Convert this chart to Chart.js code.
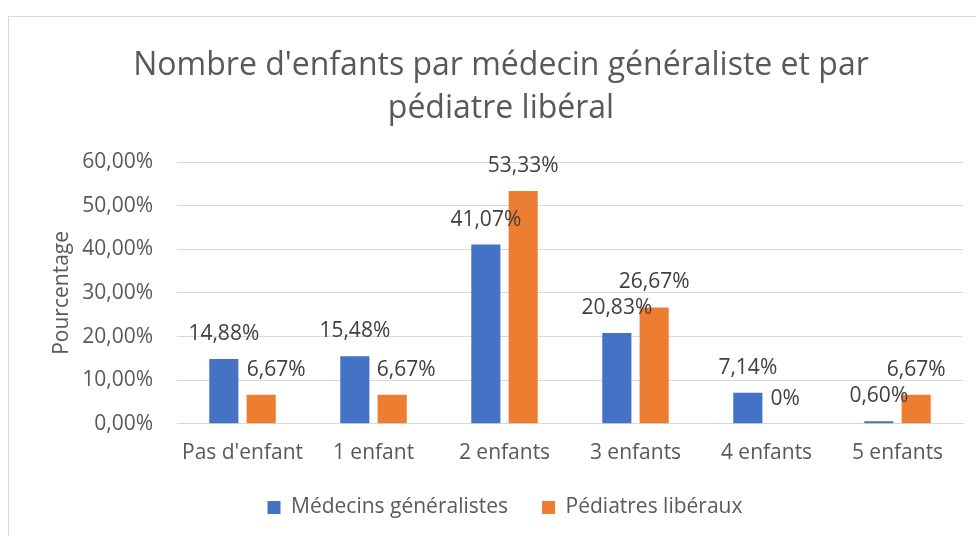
<!DOCTYPE html>
<html lang="fr">
<head>
<meta charset="utf-8">
<title>Nombre d'enfants par médecin généraliste et par pédiatre libéral</title>
<script src="https://cdn.jsdelivr.net/npm/chart.js@4.4.1/dist/chart.umd.min.js"></script>
<style>
  html, body { margin: 0; padding: 0; background: #fff; }
  .wrap { position: relative; width: 976px; height: 536px; }
</style>
</head>
<body>
<div class="wrap"><canvas id="chart" width="976" height="536"></canvas></div>
<script>
// data (percent)
const categories = ["Pas d'enfant", "1 enfant", "2 enfants", "3 enfants", "4 enfants", "5 enfants"];
const generalistes = [14.88, 15.48, 41.07, 20.83, 7.14, 0.60];
const pediatres = [6.67, 6.67, 53.33, 26.67, 0, 6.67];
const seriesNames = ["Médecins généralistes", "Pédiatres libéraux"];
const titleLines = ["Nombre d'enfants par médecin généraliste et par", "pédiatre libéral"];
const yTitle = "Pourcentage";

const FONT = "'Open Sans', 'Noto Sans', sans-serif";
const GREY = '#595959';
const LEGEND_GAP = 34;

const fmtPct = (v, digits) => v === 0 && digits === null ? '0%' : v.toFixed(digits === null ? 2 : digits).replace('.', ',') + '%';

// Excel moved a couple of labels sideways so they don't sit on the bars
const labelShift = [[0, 0, 0, 0, 0, 0], [15, 14, 0, 0, 0, 0]];

const barLabels = {
  id: 'barLabels',
  afterDatasetsDraw(chart) {
    const ctx = chart.ctx;
    ctx.save();
    ctx.font = '21px ' + FONT;
    ctx.fillStyle = '#404040';
    ctx.textAlign = 'center';
    ctx.textBaseline = 'middle';
    chart.data.datasets.forEach((ds, di) => {
      chart.getDatasetMeta(di).data.forEach((bar, i) => {
        ctx.fillText(fmtPct(ds.data[i], null), bar.x + labelShift[di][i], bar.y - 25);
      });
    });
    ctx.restore();
  }
};

// the original chart box is wider than the window, so title and legend sit right of the page centre
const frame = {
  id: 'frame',
  afterLayout(chart) {
    chart.titleBlock.left += 15;
    chart.titleBlock.right += 15;
    const lg = chart.legend;
    lg.left += 19;
    lg.right += 19;
    // big label padding is only wanted between the items, not above them
    lg.top -= LEGEND_GAP - 14;
  },
  beforeDraw(chart) {
    const ctx = chart.ctx;
    ctx.save();
    ctx.fillStyle = '#fff';
    ctx.fillRect(0, 0, chart.width, chart.height);
    ctx.strokeStyle = '#d9d9d9';
    ctx.lineWidth = 1;
    ctx.strokeRect(8.5, 16.5, chart.width, chart.height);
    ctx.restore();
  }
};

new Chart(document.getElementById('chart'), {
  type: 'bar',
  data: {
    labels: categories,
    datasets: [
      { label: seriesNames[0], data: generalistes, backgroundColor: '#4472C4' },
      { label: seriesNames[1], data: pediatres, backgroundColor: '#ED7D31' }
    ]
  },
  options: {
    responsive: false,
    animation: false,
    devicePixelRatio: 1,
    datasets: { bar: { categoryPercentage: 0.57, barPercentage: 0.78 } },
    layout: { padding: { top: 17, left: 9, right: 13, bottom: 8 } },
    plugins: {
      title: {
        display: true,
        text: titleLines,
        color: GREY,
        font: { family: FONT, size: 32, weight: 'normal', lineHeight: 1.344 },
        padding: { top: 27, bottom: 32 }
      },
      legend: {
        position: 'bottom',
        maxHeight: 45,
        labels: {
          color: GREY,
          font: { family: FONT, size: 21 },
          boxWidth: 13,
          boxHeight: 13,
          padding: LEGEND_GAP
        }
      },
      tooltip: { enabled: false }
    },
    scales: {
      x: {
        grid: { display: false, drawTicks: false },
        border: { color: '#d9d9d9' },
        ticks: { color: GREY, font: { family: FONT, size: 21 }, padding: 17, maxRotation: 0 }
      },
      y: {
        min: 0,
        max: 60,
        ticks: {
          stepSize: 10,
          color: GREY,
          font: { family: FONT, size: 21 },
          padding: 24,
          callback: v => fmtPct(v, 2)
        },
        grid: { color: '#d9d9d9', drawTicks: false },
        border: { display: false },
        title: {
          display: true,
          text: yTitle,
          color: GREY,
          font: { family: FONT, size: 21 },
          padding: { top: 40, bottom: 0 }
        },
        afterFit(scale) { scale.width = 168; }
      }
    }
  },
  plugins: [frame, barLabels]
});
</script>
</body>
</html>
